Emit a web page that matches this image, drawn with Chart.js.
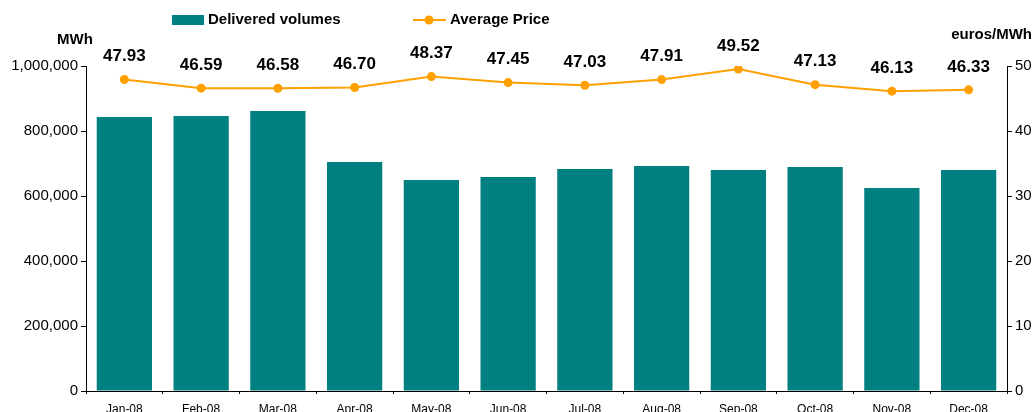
<!DOCTYPE html>
<html><head><meta charset="utf-8">
<script src="https://cdn.jsdelivr.net/npm/chart.js@4/dist/chart.umd.min.js"></script>
<style>html,body{margin:0;padding:0;background:#fff}#wrap{width:1034px;height:412px;position:relative}</style>
</head><body><div id="wrap"><canvas id="c" width="1034" height="412"></canvas></div>
<script>
const categories = ['Jan-08','Feb-08','Mar-08','Apr-08','May-08','Jun-08','Jul-08','Aug-08','Sep-08','Oct-08','Nov-08','Dec-08'];
const deliveredVolumes = [843000, 846000, 861500, 704500, 649000, 658500, 683000, 692500, 680000, 689000, 624500, 680000];
const averagePrice = [47.93, 46.59, 46.58, 46.70, 48.37, 47.45, 47.03, 47.91, 49.52, 47.13, 46.13, 46.33];
const leftTicks = [0, 200000, 400000, 600000, 800000, 1000000];
const rightTicks = [0, 10, 20, 30, 40, 50];

const TEAL = '#008080', ORANGE = '#FFA000';
const FONT = '"Liberation Sans", Arial, sans-serif';

const overlay = {
  id: 'overlay',
  afterDatasetsDraw(chart) {
    const ctx = chart.ctx;
    ctx.save();
    // data labels
    const meta = chart.getDatasetMeta(1);
    ctx.font = 'bold 17px ' + FONT;
    ctx.fillStyle = '#000';
    ctx.textAlign = 'center';
    ctx.textBaseline = 'middle';
    meta.data.forEach((pt, i) => {
      ctx.fillText(averagePrice[i].toFixed(2), pt.x, pt.y - 23);
    });
    // axis titles
    ctx.font = 'bold 15px ' + FONT;
    ctx.textAlign = 'left';
    ctx.fillText('MWh', 57, 40);
    ctx.textAlign = 'right';
    ctx.fillText('euros/MWh', 1032, 35);
    // legend
    ctx.fillStyle = TEAL;
    ctx.fillRect(172, 15, 32, 10);
    ctx.fillStyle = '#000';
    ctx.textAlign = 'left';
    ctx.font = 'bold 15px ' + FONT;
    ctx.fillText(chart.data.datasets[0].label, 208, 20);
    ctx.strokeStyle = ORANGE;
    ctx.lineWidth = 2;
    ctx.beginPath(); ctx.moveTo(413, 20); ctx.lineTo(446, 20); ctx.stroke();
    ctx.fillStyle = ORANGE;
    ctx.beginPath(); ctx.arc(429, 20, 4.5, 0, Math.PI * 2); ctx.fill();
    ctx.fillStyle = '#000';
    ctx.fillText(chart.data.datasets[1].label, 450, 20);
    ctx.restore();
  }
};

new Chart(document.getElementById('c'), {
  type: 'bar',
  data: {
    labels: categories,
    datasets: [
      { type: 'bar', label: 'Delivered volumes', data: deliveredVolumes, backgroundColor: TEAL, yAxisID: 'y', barPercentage: 0.72, categoryPercentage: 1, order: 2 },
      { type: 'line', label: 'Average Price', data: averagePrice, borderColor: ORANGE, backgroundColor: ORANGE, borderWidth: 2, pointRadius: 4.5, pointBackgroundColor: ORANGE, pointBorderWidth: 0, yAxisID: 'y1', tension: 0, order: 1 }
    ]
  },
  options: {
    responsive: false,
    animation: false,
    devicePixelRatio: 1,
    layout: { padding: { top: 66, left: 0, right: 0, bottom: 0 } },
    plugins: { legend: { display: false }, tooltip: { enabled: false } },
    scales: {
      x: {
        grid: { drawOnChartArea: false, drawTicks: true, tickLength: 3, color: '#000', offset: true },
        border: { display: true, color: '#000', width: 1 },
        ticks: { color: '#000', font: { family: FONT, size: 12 }, padding: 8, maxRotation: 0, autoSkip: false },
        afterFit(s) { s.height = 21; }
      },
      y: {
        position: 'left', min: 0, max: 1000000,
        afterBuildTicks(s) { s.ticks = leftTicks.map(v => ({ value: v })); },
        grid: { drawOnChartArea: false, drawTicks: true, tickLength: 5, color: '#000' },
        border: { display: true, color: '#000', width: 1 },
        ticks: { color: '#000', font: { family: FONT, size: 15 }, padding: 3, callback: v => v.toLocaleString('en-US') },
        afterFit(s) { s.width = 86; }
      },
      y1: {
        position: 'right', min: 0, max: 50,
        afterBuildTicks(s) { s.ticks = rightTicks.map(v => ({ value: v })); },
        grid: { drawOnChartArea: false, drawTicks: true, tickLength: 5, color: '#000' },
        border: { display: true, color: '#000', width: 1 },
        ticks: { color: '#000', font: { family: FONT, size: 15 }, padding: 3 },
        afterFit(s) { s.width = 27; }
      }
    }
  },
  plugins: [overlay]
});
</script></body></html>
